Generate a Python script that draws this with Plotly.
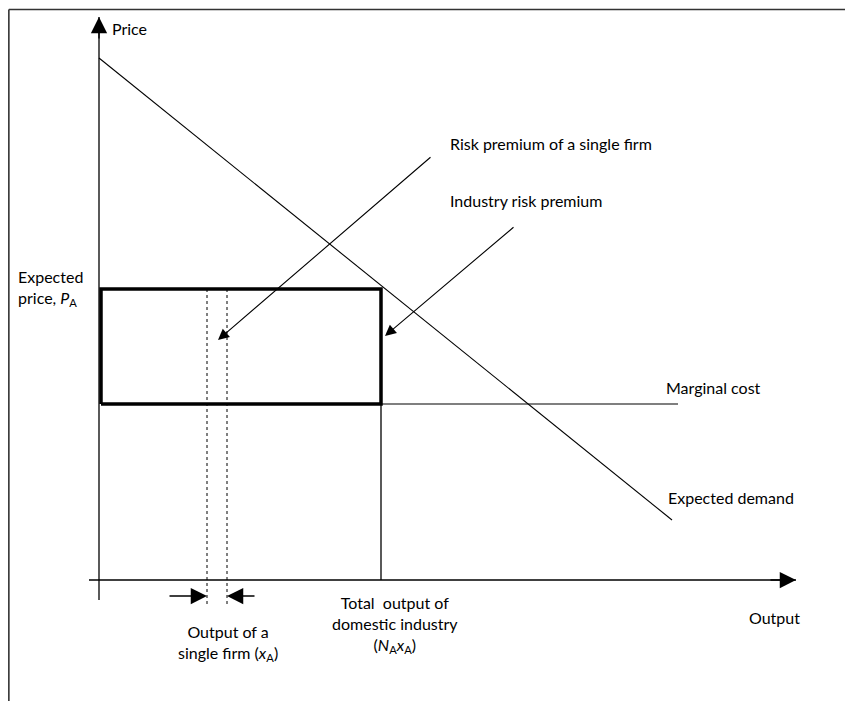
import plotly.graph_objects as go

# Data coordinates: Q = output (origin at the price axis), P = price (origin at the output axis)
demand_q = [0, 573]
demand_p = [522, 60]

box_q = [2, 282]          # left / right of rectangle (industry output)
box_p = [176, 291]        # marginal cost / expected price

mc_q = [282, 579]
mc_p = [176, 176]

firm_q = [108, 128]       # single firm slice (dotted lines)
firm_p = [291, -24]

yaxis_q = [0, 0]
yaxis_p = [-20, 563]
xaxis_q = [-10, 697]
xaxis_p = [0, 0]

firm_arrow_left_q = [69, 108]
firm_arrow_right_q = [157, 128]
firm_arrow_p = -16

risk_firm_tail = (333, 424)
risk_firm_head = (119, 240)
risk_ind_tail = (416, 354)
risk_ind_head = (286, 244)

FONT = "Lato"
FS = 16
SUB = '<sub>A</sub>'

fig = go.Figure()

def line(q, p, width=1.1, dash=None, color="black"):
    fig.add_trace(go.Scatter(x=q, y=p, mode="lines",
                             line=dict(color=color, width=width, dash=dash),
                             hoverinfo="skip", showlegend=False))

# axes lines
line(yaxis_q, yaxis_p, 1.3)
line(xaxis_q, xaxis_p, 1.3)
# demand
line(demand_q, demand_p, 1.1)
# marginal cost
line(mc_q, mc_p, 1.1)
# vertical at industry output
line([box_q[1], box_q[1]], [0, box_p[0]], 1.3)
# dotted firm lines
for q in firm_q:
    line([q, q], firm_p, 1, dash="dot")
# rectangle
line([box_q[0], box_q[1], box_q[1], box_q[0], box_q[0]],
     [box_p[0], box_p[0], box_p[1], box_p[1], box_p[0]], 3.5)

def arrow(tail, head, width=1.1, size=1.0, head_style=2):
    fig.add_annotation(x=head[0], y=head[1], ax=tail[0], ay=tail[1],
                       xref="x", yref="y", axref="x", ayref="y",
                       showarrow=True, arrowhead=head_style, arrowsize=size,
                       arrowwidth=width, arrowcolor="black", text="", standoff=0)

# axis arrowheads
arrow((0, 540), (0, yaxis_p[1]), 1.3, 2.5)
arrow((670, 0), (xaxis_q[1], 0), 1.3, 2.5)
# firm output arrows
arrow((firm_arrow_left_q[0], firm_arrow_p), (firm_arrow_left_q[1], firm_arrow_p), 1.3, 2.5)
arrow((firm_arrow_right_q[0], firm_arrow_p), (firm_arrow_right_q[1], firm_arrow_p), 1.3, 2.5)
# risk premium arrows
arrow(risk_firm_tail, risk_firm_head, 1.1, 2.0)
arrow(risk_ind_tail, risk_ind_head, 1.1, 2.0)

def text(q, p, s, align="left", anchor="left"):
    fig.add_annotation(x=q, y=p, xref="x", yref="y", text=s, showarrow=False,
                       xanchor=anchor, yanchor="middle", align=align,
                       font=dict(family=FONT, size=FS, color="black"))

text(11, 552, "Price")
text(-83, 292, "Expected<br>price, <i>P</i>" + SUB)
text(349, 437, "Risk premium of a single firm")
text(349, 380, "Industry risk premium")
text(565, 193, "Marginal cost")
text(567, 83, "Expected demand")
text(648, -37, "Output")
text(129, -63, "Output of a<br>single firm (<i>x</i>" + SUB + ")", align="center", anchor="center")
text(296, -44, "Total  output of<br>domestic industry<br>(<i>N</i>" + SUB + "<i>x</i>" + SUB + ")",
     align="center", anchor="center")

# frame border (left and top edges visible)
fig.add_shape(type="line", xref="paper", yref="paper", x0=0.001, x1=0.001, y0=0, y1=1 - 1.5/701,
              line=dict(color="#333", width=1.6))
fig.add_shape(type="line", xref="paper", yref="paper", x0=0.001, x1=1, y0=1 - 1.5/701, y1=1 - 1.5/701,
              line=dict(color="#333", width=1.6))

# The page places the figure 8px in from the top-left, so the ranges compensate
fig.update_layout(
    width=853, height=701, margin=dict(l=0, r=0, t=0, b=0),
    paper_bgcolor="white", plot_bgcolor="white",
    xaxis=dict(range=[-91, 762], visible=False, fixedrange=True),
    yaxis=dict(range=[-129, 572], visible=False, fixedrange=True),
    showlegend=False,
)
fig.write_html("out.html")
